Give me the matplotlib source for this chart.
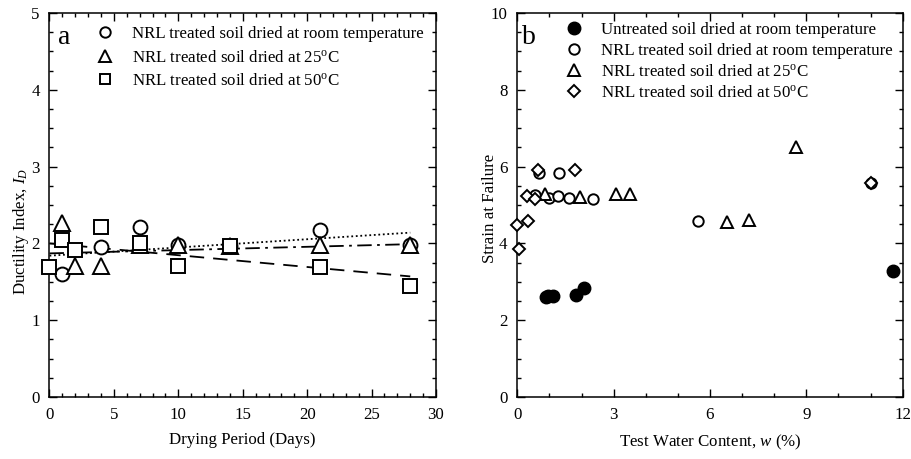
import matplotlib
matplotlib.use("Agg")
import matplotlib.pyplot as plt
from matplotlib.ticker import MultipleLocator

plt.rcParams['font.family'] = ['Liberation Serif', 'DejaVu Serif']
plt.rcParams['mathtext.fontset'] = 'custom'
plt.rcParams['mathtext.rm'] = 'Liberation Serif'
plt.rcParams['mathtext.it'] = 'Liberation Serif:italic'
FS = 12.2
plt.rcParams['font.size'] = FS

# ---------------- Panel a data ----------------
days_room = [1, 4, 7, 10, 14, 21, 28]
id_room = [1.60, 1.95, 2.21, 1.98, 1.97, 2.18, 1.98]
days_25 = [1, 2, 4, 7, 10, 14, 21, 28]
id_25 = [2.27, 1.71, 1.71, 1.98, 1.98, 1.97, 1.98, 1.98]
days_50 = [0, 1, 2, 4, 7, 10, 14, 21, 28]
id_50 = [1.69, 2.05, 1.91, 2.21, 2.01, 1.71, 1.97, 1.69, 1.45]

trend_x = [0, 28]
trend_room = [1.84, 2.14]
trend_25 = [1.87, 1.99]
trend_50 = [2.00, 1.57]

labels_a = ['NRL treated soil dried at room temperature',
            'NRL treated soil dried at 25$^{\\rm o}$C',
            'NRL treated soil dried at 50$^{\\rm o}$C']

# ---------------- Panel b data ----------------
w_untreated = [0.90, 0.95, 1.12, 1.83, 2.09, 11.71]
s_untreated = [2.61, 2.63, 2.64, 2.65, 2.84, 3.27]
w_room = [0.55, 0.69, 1.00, 1.28, 1.31, 1.62, 2.37, 5.62, 11.0]
s_room = [5.26, 5.84, 5.17, 5.23, 5.83, 5.17, 5.16, 4.58, 5.56]
w_25 = [0.86, 1.95, 3.07, 3.51, 6.52, 7.20, 8.68]
s_25 = [5.28, 5.21, 5.28, 5.28, 4.56, 4.61, 6.52]
w_50 = [0.00, 0.05, 0.29, 0.34, 0.55, 0.64, 1.80, 11.0]
s_50 = [4.48, 3.85, 5.24, 4.58, 5.15, 5.90, 5.90, 5.56]

labels_b = ['Untreated soil dried at room temperature',
            'NRL treated soil dried at room temperature',
            'NRL treated soil dried at 25$^{\\rm o}$C',
            'NRL treated soil dried at 50$^{\\rm o}$C']

W, H = 912, 459
fig = plt.figure(figsize=(W / 100, H / 100), dpi=100)
axa = fig.add_axes([49.5 / W, (H - 397) / H, 386.5 / W, 384 / H])
axb = fig.add_axes([517.3 / W, (H - 397) / H, 385.4 / W, 384 / H])


def style(ax):
    ax.tick_params(which='both', direction='in', top=True, right=True, labelsize=FS)
    ax.tick_params(which='major', length=6, width=1.0, pad=7)
    ax.tick_params(which='minor', length=3, width=1.0)
    for s in ax.spines.values():
        s.set_linewidth(1.1)


mk = dict(mfc='white', mec='black', mew=1.4, ls='none', clip_on=False, zorder=3)

# Panel a
axa.plot(trend_x, trend_room, color='black', ls=(0, (1, 1.5)), lw=1.3, zorder=2)
axa.plot(trend_x, trend_25, color='black', ls=(0, (8, 3, 1.5, 3)), lw=1.3, zorder=2)
axa.plot(trend_x, trend_50, color='black', ls=(0, (8, 5)), lw=1.3, zorder=2)
h1, = axa.plot(days_room, id_room, marker='o', ms=10, **mk)
h2, = axa.plot(days_25, id_25, marker='^', ms=11, **mk)
h3, = axa.plot(days_50, id_50, marker='s', ms=9.5, **mk)
axa.set_xlim(0, 30)
axa.set_ylim(0, 5)
axa.xaxis.set_major_locator(MultipleLocator(5))
axa.xaxis.set_minor_locator(MultipleLocator(1))
axa.yaxis.set_major_locator(MultipleLocator(1))
axa.yaxis.set_minor_locator(MultipleLocator(0.25))
style(axa)
axa.set_xlabel('Drying Period (Days)', fontsize=FS, labelpad=7)
axa.set_ylabel('Ductility Index, $I_D$', fontsize=FS)
axa.yaxis.set_label_coords(-0.049, 0.43)
axa.text(0.022, 0.918, 'a', transform=axa.transAxes, fontsize=20, ha='left', va='baseline')
axa.legend([h1, h2, h3], labels_a, loc='upper left', bbox_to_anchor=(0.122, 0.966),
           frameon=False, borderpad=0, borderaxespad=0, handlelength=1.0,
           handletextpad=1.09, labelspacing=0.44, markerscale=0.75, fontsize=FS)

# Panel b
g1, = axb.plot(w_untreated, s_untreated, marker='o', ms=9, mfc='black', mec='black',
               ls='none', clip_on=False, zorder=3)
g2, = axb.plot(w_room, s_room, marker='o', ms=7.5, **mk)
g3, = axb.plot(w_25, s_25, marker='^', ms=8.5, **mk)
g4, = axb.plot(w_50, s_50, marker='D', ms=6.5, **mk)
axb.set_xlim(0, 12)
axb.set_ylim(0, 10)
axb.xaxis.set_major_locator(MultipleLocator(3))
axb.xaxis.set_minor_locator(MultipleLocator(1))
axb.yaxis.set_major_locator(MultipleLocator(2))
axb.yaxis.set_minor_locator(MultipleLocator(0.5))
style(axb)
axb.set_xlabel('Test Water Content, $w$ (%)', fontsize=FS, labelpad=7)
axb.set_ylabel('Strain at Failure', fontsize=FS)
axb.yaxis.set_label_coords(-0.05, 0.49)
axb.text(0.012, 0.918, 'b', transform=axb.transAxes, fontsize=20, ha='left', va='baseline')
axb.legend([g1, g2, g3, g4], labels_b, loc='upper left', bbox_to_anchor=(0.125, 0.977),
           frameon=False, borderpad=0, borderaxespad=0, handlelength=1.0,
           handletextpad=1.09, labelspacing=0.3, markerscale=1.0, fontsize=FS)

fig.savefig('out.png', dpi=100, facecolor='white')
